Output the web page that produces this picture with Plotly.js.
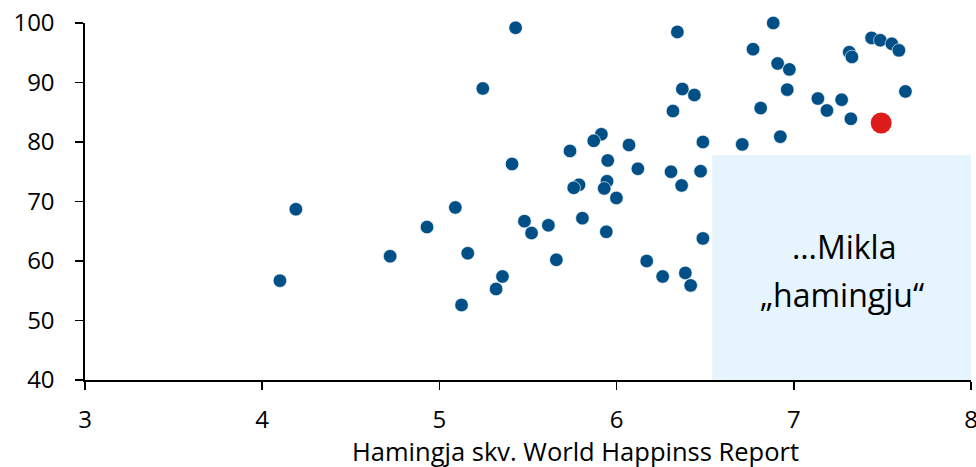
<!DOCTYPE html>
<html>
<head>
<meta charset="utf-8">
<script src="https://cdn.plot.ly/plotly-3.0.1.min.js"></script>
<style>html,body{margin:0;padding:0;background:#fff;}#chart{width:976px;height:467px;}</style>
</head>
<body>
<div id="chart"></div>
<script>
const happiness = [4.19, 4.10, 5.43, 5.245, 5.914, 5.871, 5.737, 6.07, 5.95, 6.12, 5.41, 5.946, 5.788, 5.758, 5.93, 5.999, 5.807, 5.48, 5.615, 5.52, 5.942, 5.09, 4.93,
  4.722, 5.16, 5.356, 5.32, 5.125, 5.66, 6.17,
  6.343, 6.884, 6.77, 6.909, 6.975, 7.313, 7.328, 7.439, 7.488, 7.553, 7.593, 7.63, 6.371, 6.439, 6.963, 6.318, 6.813, 7.136, 7.27, 7.187, 7.322,
  6.487, 6.709, 6.924, 6.307, 6.474, 6.367, 6.487, 6.26, 6.388, 6.418];
const score = [68.7, 56.7, 99.2, 89.0, 81.3, 80.2, 78.5, 79.5, 76.9, 75.5, 76.3, 73.4, 72.8, 72.3, 72.2, 70.6, 67.2, 66.7, 66.0, 64.7, 64.9, 69.0, 65.7,
  60.8, 61.3, 57.4, 55.3, 52.6, 60.2, 60.0,
  98.5, 100.0, 95.6, 93.2, 92.2, 95.1, 94.3, 97.5, 97.1, 96.5, 95.4, 88.5, 88.9, 87.9, 88.8, 85.2, 85.7, 87.3, 87.1, 85.3, 83.9,
  80.0, 79.6, 80.9, 75.0, 75.1, 72.7, 63.8, 57.4, 58.0, 55.9];
const highlightX = [7.493];
const highlightY = [83.2];
const regionX = [6.54, 8.02];
const regionY = [40, 77.8];
const annotationLines = ["…Mikla", "„hamingju“"];
const xTitle = "Hamingja skv. World Happinss Report";
const xTicks = [3, 4, 5, 6, 7, 8];
const yTicks = [40, 50, 60, 70, 80, 90, 100];

const traces = [
  {x: happiness, y: score, type: 'scatter', mode: 'markers', cliponaxis: false,
   marker: {color: '#004F86', size: 13.5, line: {color: '#ffffff', width: 0.6}}, hoverinfo: 'none'},
  {x: highlightX, y: highlightY, type: 'scatter', mode: 'markers',
   marker: {color: '#E01B1B', size: 21, line: {width: 0}}, hoverinfo: 'none'}
];

const fontFam = 'Open Sans, Noto Sans, sans-serif';
const layout = {
  width: 976, height: 467,
  margin: {l: 85, r: 5, t: 23, b: 87},
  paper_bgcolor: '#ffffff', plot_bgcolor: '#ffffff',
  showlegend: false,
  font: {family: fontFam, color: '#000000', size: 24},
  xaxis: {range: [3, 8], tickvals: xTicks, showgrid: false, zeroline: false,
    showline: true, linecolor: '#000000', linewidth: 1.6,
    ticks: 'outside', ticklen: 8, tickwidth: 1.6, tickcolor: '#000000',
    ticklabeloverflow: 'allow', ticklabelstandoff: 10,
    tickfont: {size: 24}},
  yaxis: {range: [40, 100], tickvals: yTicks, showgrid: false, zeroline: false,
    showline: true, linecolor: '#000000', linewidth: 1.6,
    ticks: 'outside', ticklen: 8, tickwidth: 1.6, tickcolor: '#000000',
    ticklabelstandoff: 16,
    tickfont: {size: 24}},
  shapes: [{type: 'rect', xref: 'x', yref: 'y', x0: regionX[0], x1: regionX[1], y0: regionY[0], y1: regionY[1],
    fillcolor: '#E6F4FD', line: {width: 0}, layer: 'below'}],
  annotations: [
    {x: 7.285, y: 62.4, xref: 'x', yref: 'y', text: annotationLines[0], showarrow: false,
     font: {size: 32, color: '#000000'}, xanchor: 'center', yanchor: 'middle'},
    {x: 7.27, y: 54.3, xref: 'x', yref: 'y', text: annotationLines[1], showarrow: false,
     font: {size: 32, color: '#000000'}, xanchor: 'center', yanchor: 'middle'},
    {x: 0.554, y: -0.2, xref: 'paper', yref: 'paper', text: xTitle, showarrow: false,
     font: {size: 25.5, color: '#000000'}, xanchor: 'center', yanchor: 'middle'}
  ]
};

Plotly.newPlot('chart', traces, layout, {staticPlot: true, displayModeBar: false});
</script>
</body>
</html>
